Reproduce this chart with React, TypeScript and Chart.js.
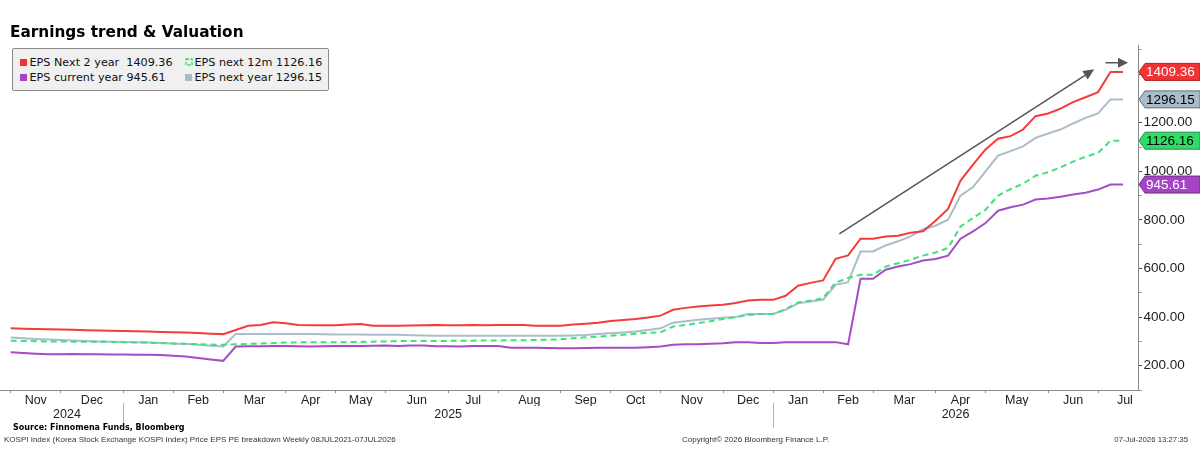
import React, { useEffect, useRef } from "react";
import { Chart, registerables } from "chart.js";

Chart.register(...registerables);

// ---- Weekly EPS breakdown (KOSPI), one value per week, Nov 2024 -> Jul 2026 ----
const monthLabels = ["Nov", "Dec", "Jan", "Feb", "Mar", "Apr", "May", "Jun", "Jul", "Aug", "Sep", "Oct", "Nov", "Dec", "Jan", "Feb", "Mar", "Apr", "May", "Jun", "Jul"];
// week index of the first weekly observation in each month
const monthStartWeek = [0, 4, 9, 13, 17, 22, 26, 30, 35, 39, 44, 48, 52, 57, 61, 65, 69, 74, 78, 83, 87];
// week position where the last (partial) month would end
const lastMonthEndWeek = 91.3;
const yearLabels = ["2024", "2025", "2026"];
const yearStartWeek = [0, 9, 61];

const epsNext2Year = [
  354, 352, 351, 350, 349, 348, 346, 345, 344, 343, 342, 341, 339, 338, 337, 335, 332, 330,
  347, 364, 368, 379, 375, 368, 367, 367, 367, 370, 372, 364, 364, 364, 365, 366, 368, 367,
  367, 368, 366, 368, 368, 368, 364, 364, 364, 370, 373, 377, 384, 388, 392, 398, 406, 430,
  438, 444, 448, 451, 458, 468, 471, 471, 488, 529, 541, 551, 640, 654, 723, 723, 732, 735,
  747, 753, 797, 845, 962, 1028, 1090, 1134, 1145, 1172, 1227, 1238, 1258, 1285, 1305, 1326,
  1409.36, 1409.36,
];
const epsNextYear = [
  316, 313, 310, 308, 306, 304, 302, 300, 299, 298, 297, 296, 293, 291, 289, 286, 282, 279,
  330, 330, 331, 331, 330, 330, 330, 329, 328, 328, 328, 327, 327, 327, 325, 324, 323, 323,
  323, 323, 323, 323, 323, 323, 323, 323, 323, 324, 326, 330, 334, 337, 341, 347, 354, 377,
  383, 389, 393, 397, 400, 413, 413, 413, 430, 457, 464, 471, 533, 544, 670, 670, 695, 712,
  732, 762, 776, 801, 900, 935, 1000, 1065, 1083, 1103, 1138, 1156, 1172, 1197, 1220, 1238,
  1296.15, 1296.15,
];
const epsNext12m = [
  303, 302, 301, 300, 300, 299, 299, 299, 298, 297, 296, 295, 293, 291, 290, 289, 287, 286,
  288, 290, 291, 293, 295, 296, 297, 297, 297, 297, 298, 299, 300, 301, 302, 302, 302, 302,
  303, 303, 304, 304, 305, 305, 306, 307, 309, 313, 317, 320, 323, 327, 332, 335, 338, 361,
  368, 375, 383, 392, 400, 409, 413, 413, 433, 460, 468, 478, 542, 561, 574, 574, 608, 622,
  636, 653, 666, 684, 773, 808, 842, 900, 927, 949, 982, 996, 1016, 1040, 1060, 1076,
  1126.16, 1126.16,
];
const epsCurrentYear = [
  255, 252, 249, 247, 247, 248, 247, 247, 246, 246, 245, 245, 244, 241, 238, 232, 226, 220,
  279, 280, 280, 281, 281, 280, 279, 280, 281, 281, 281, 282, 283, 281, 283, 283, 280, 280,
  279, 281, 281, 281, 274, 274, 274, 273, 272, 272, 273, 274, 274, 274, 274, 276, 279, 286,
  288, 288, 290, 292, 297, 297, 293, 293, 297, 297, 297, 297, 297, 288, 558, 558, 595, 608,
  618, 633, 639, 653, 723, 753, 787, 838, 852, 863, 884, 888, 895, 905, 912, 925,
  945.61, 945.61,
];
const yTickValues = [100, 200, 300, 400, 500, 600, 700, 800, 900, 1000, 1100, 1200, 1300, 1400, 1500];

// axis extent in week units
const X_MIN = -0.86;
const X_MAX = 90.2;
const Y_MIN = 100;
const Y_MAX = 1520;

// hand-drawn trend annotation, in (week, EPS) coordinates
const trendArrow = { from: [66.3, 743], to: [86.7, 1420] };
const lastValueArrow = { from: [87.6, 1447], to: [89.4, 1447] };

const series = [
  { label: "EPS Next 2 year", data: epsNext2Year, color: "#f43c3c", tag: "#ee3434", tagEdge: "#b02020", tagText: "#ffffff", dash: [] as number[] },
  { label: "EPS next 12m", data: epsNext12m, color: "#3ee27c", tag: "#2fdc66", tagEdge: "#2a8a48", tagText: "#000000", dash: [6, 4] },
  { label: "EPS next year", data: epsNextYear, color: "#a9bdca", tag: "#a9bccb", tagEdge: "#5f6e7a", tagText: "#000000", dash: [] as number[] },
  { label: "EPS current year", data: epsCurrentYear, color: "#a64cc8", tag: "#a544c5", tagEdge: "#6d2a86", tagText: "#ffffff", dash: [] as number[] },
];

type XTick = { value: number; label: string; boundary: boolean };

const monthTicks: XTick[] = (() => {
  const out: XTick[] = [];
  monthStartWeek.forEach((w, k) => {
    const next = k + 1 < monthStartWeek.length ? monthStartWeek[k + 1] : lastMonthEndWeek;
    out.push({ value: w, label: "", boundary: true });
    out.push({ value: (w + next) / 2, label: monthLabels[k], boundary: false });
  });
  return out.sort((a, b) => a.value - b.value);
})();

const yearTicks: XTick[] = yearStartWeek.map((w, k) => {
  const next = k + 1 < yearStartWeek.length ? yearStartWeek[k + 1] : X_MAX;
  return { value: (w + next) / 2, label: yearLabels[k], boundary: false };
});

function drawArrow(ctx: CanvasRenderingContext2D, x1: number, y1: number, x2: number, y2: number, head: number, halfW: number) {
  const ang = Math.atan2(y2 - y1, x2 - x1);
  const bx = x2 - head * Math.cos(ang);
  const by = y2 - head * Math.sin(ang);
  ctx.beginPath();
  ctx.moveTo(x1, y1);
  ctx.lineTo(bx, by);
  ctx.stroke();
  ctx.beginPath();
  ctx.moveTo(x2, y2);
  ctx.lineTo(bx + halfW * Math.sin(ang), by - halfW * Math.cos(ang));
  ctx.lineTo(bx - halfW * Math.sin(ang), by + halfW * Math.cos(ang));
  ctx.closePath();
  ctx.fill();
}

const overlayPlugin = {
  id: "epsOverlay",
  afterDraw(chart: any) {
    const { ctx, scales } = chart;
    const x = scales.x;
    const y = scales.y;
    const xYear = scales.xYear;
    ctx.save();

    // year separators under the month row
    ctx.strokeStyle = "#b4b4b4";
    ctx.lineWidth = 1;
    yearStartWeek.slice(1).forEach((w) => {
      const px = Math.round(x.getPixelForValue(w)) + 0.5;
      ctx.beginPath();
      ctx.moveTo(px, x.top + 13);
      ctx.lineTo(px, xYear.top + 22);
      ctx.stroke();
    });

    // trend arrows
    ctx.strokeStyle = "#555555";
    ctx.fillStyle = "#555555";
    ctx.lineWidth = 1.5;
    drawArrow(
      ctx,
      x.getPixelForValue(trendArrow.from[0]), y.getPixelForValue(trendArrow.from[1]),
      x.getPixelForValue(trendArrow.to[0]), y.getPixelForValue(trendArrow.to[1]),
      11, 5
    );
    drawArrow(
      ctx,
      x.getPixelForValue(lastValueArrow.from[0]), y.getPixelForValue(lastValueArrow.from[1]),
      x.getPixelForValue(lastValueArrow.to[0]), y.getPixelForValue(lastValueArrow.to[1]),
      10, 5
    );

    // last-value tags on the right axis
    const left = y.left + 1;
    const right = chart.width;
    const h = 17;
    ctx.font = "13.5px 'Liberation Sans', Arial, sans-serif";
    ctx.textBaseline = "middle";
    ctx.textAlign = "left";
    series.forEach((s) => {
      const v = s.data[s.data.length - 1];
      const py = y.getPixelForValue(v);
      ctx.beginPath();
      ctx.moveTo(left, py);
      ctx.lineTo(left + 6, py - h / 2);
      ctx.lineTo(right, py - h / 2);
      ctx.lineTo(right, py + h / 2);
      ctx.lineTo(left + 6, py + h / 2);
      ctx.closePath();
      ctx.fillStyle = s.tag;
      ctx.fill();
      ctx.strokeStyle = s.tagEdge;
      ctx.lineWidth = 1;
      ctx.stroke();
      ctx.fillStyle = s.tagText;
      ctx.fillText(v.toFixed(2), left + 7, py + 0.5);
    });

    ctx.restore();
  },
};

const legendItems = [
  { text: "EPS Next 2 year  1409.36", swatch: "#ee3434", dashed: false, x: 20, row: 0 },
  { text: "EPS next 12m 1126.16", swatch: "#2fdc66", dashed: true, x: 185, row: 0 },
  { text: "EPS current year 945.61", swatch: "#a544c5", dashed: false, x: 20, row: 1 },
  { text: "EPS next year 1296.15", swatch: "#a9bccb", dashed: false, x: 185, row: 1 },
];

const abs = (left: number, top: number): React.CSSProperties => ({ position: "absolute", left, top, whiteSpace: "pre" });

export default function App() {
  const canvasRef = useRef<HTMLCanvasElement>(null);

  useEffect(() => {
    const canvas = canvasRef.current;
    if (!canvas) return;
    Chart.defaults.font.family = "'Liberation Sans', Arial, sans-serif";
    const chart = new Chart(canvas, {
      type: "line",
      data: {
        datasets: series.map((s) => ({
          label: s.label,
          data: s.data.map((v, i) => ({ x: i, y: v })),
          borderColor: s.color,
          backgroundColor: s.color,
          borderWidth: 2,
          borderDash: s.dash,
          pointRadius: 0,
          tension: 0,
          fill: false,
        })),
      },
      options: {
        animation: false,
        responsive: false,
        devicePixelRatio: 1,
        layout: { padding: { top: 45, left: 0, right: 0, bottom: 0 } },
        plugins: {
          legend: { display: false },
          title: { display: false },
          tooltip: { enabled: false },
        },
        scales: {
          x: {
            type: "linear",
            position: "bottom",
            weight: 0,
            min: X_MIN,
            max: X_MAX,
            afterBuildTicks: (s: any) => {
              s.ticks = monthTicks.map((t) => ({ value: t.value }));
            },
            afterFit: (s: any) => {
              s.height = 16;
            },
            ticks: {
              autoSkip: false,
              maxRotation: 0,
              minRotation: 0,
              padding: 0,
              color: "#222222",
              font: { size: 12.5 },
              callback: (_v: any, i: number) => monthTicks[i]?.label ?? "",
            },
            grid: {
              drawOnChartArea: false,
              drawTicks: true,
              tickLength: 3,
              color: (ctx: any) => (monthTicks[ctx.index]?.boundary ? "#8a8a8a" : "rgba(0,0,0,0)"),
            },
            border: { display: true, color: "#8a8a8a", width: 1 },
          },
          xYear: {
            type: "linear",
            position: "bottom",
            weight: 1,
            min: X_MIN,
            max: X_MAX,
            afterBuildTicks: (s: any) => {
              s.ticks = yearTicks.map((t) => ({ value: t.value }));
            },
            afterFit: (s: any) => {
              s.height = 60;
            },
            ticks: {
              autoSkip: false,
              maxRotation: 0,
              minRotation: 0,
              padding: 1,
              color: "#222222",
              font: { size: 12.5 },
              callback: (_v: any, i: number) => yearTicks[i]?.label ?? "",
            },
            grid: { display: false, drawTicks: false },
            border: { display: false },
          },
          y: {
            type: "linear",
            position: "right",
            min: Y_MIN,
            max: Y_MAX,
            afterBuildTicks: (s: any) => {
              s.ticks = yTickValues.map((v) => ({ value: v }));
            },
            afterFit: (s: any) => {
              s.width = 62;
            },
            ticks: {
              padding: 1.5,
              color: "#222222",
              font: { size: 13.5 },
              callback: (v: any) => (Number(v) % 200 === 0 ? Number(v).toFixed(2) : ""),
            },
            grid: {
              drawOnChartArea: false,
              drawTicks: true,
              tickLength: 4,
              color: (ctx: any) => (ctx.tick && ctx.tick.value % 200 === 0 ? "#444444" : "#9a9a9a"),
            },
            border: { display: true, color: "#8a8a8a", width: 1 },
          },
        },
      } as any,
      plugins: [overlayPlugin],
    });
    return () => chart.destroy();
  }, []);

  const dv = "'DejaVu Sans', Verdana, sans-serif";
  const lib = "'Liberation Sans', Arial, sans-serif";
  const fs = 8;

  return (
    <div style={{ position: "absolute", left: 0, top: 0, width: 1200, height: 466, background: "#ffffff", overflow: "hidden" }}>
      <canvas ref={canvasRef} width={1200} height={466} style={{ position: "absolute", left: 0, top: 0, width: 1200, height: 466 }} />

      <div style={{ ...abs(10, 25), fontFamily: dv, fontWeight: "bold", fontSize: 15.3, lineHeight: "15.3px", color: "#000" }}>
        Earnings trend &amp; Valuation
      </div>

      <div
        style={{
          position: "absolute",
          left: 12,
          top: 48,
          width: 315,
          height: 41,
          background: "#f0f0f0",
          border: "1px solid #8c8c8c",
          borderRadius: 2,
        }}
      />
      {legendItems.map((it) => {
        const baseline = 66.5 + it.row * 15;
        return (
          <React.Fragment key={it.text}>
            {it.dashed ? (
              <svg width={8} height={8} style={{ position: "absolute", left: it.x, top: baseline - 8.5 }}>
                <rect x={1} y={1} width={6} height={6} fill="none" stroke={it.swatch} strokeWidth={1.3} strokeDasharray="3 1.5" />
              </svg>
            ) : (
              <div style={{ position: "absolute", left: it.x, top: baseline - 8, width: 7, height: 7, background: it.swatch }} />
            )}
            <div style={{ ...abs(it.x + 9.5, baseline - 0.846 * 11.2), fontFamily: dv, fontSize: 11.2, lineHeight: "11.2px", color: "#111" }}>
              {it.text}
            </div>
          </React.Fragment>
        );
      })}

      <div style={{ ...abs(13, 431 - 0.846 * fs), fontFamily: dv, fontWeight: "bold", fontSize: fs, lineHeight: `${fs}px`, color: "#000" }}>
        Source: Finnomena Funds, Bloomberg
      </div>
      <div style={{ ...abs(4, 443 - 0.846 * fs), fontFamily: lib, fontSize: fs, lineHeight: `${fs}px`, color: "#333" }}>
        KOSPI Index (Korea Stock Exchange KOSPI Index) Price EPS PE breakdown Weekly 08JUL2021-07JUL2026
      </div>
      <div style={{ ...abs(682, 443 - 0.846 * fs), fontFamily: lib, fontSize: fs, lineHeight: `${fs}px`, color: "#333" }}>
        Copyright© 2026 Bloomberg Finance L.P.
      </div>
      <div style={{ position: "absolute", right: 12, top: 443 - 0.846 * fs, fontFamily: lib, fontSize: 7.8, lineHeight: "8px", color: "#333", whiteSpace: "pre" }}>
        07-Jul-2026 13:27:35
      </div>
    </div>
  );
}
